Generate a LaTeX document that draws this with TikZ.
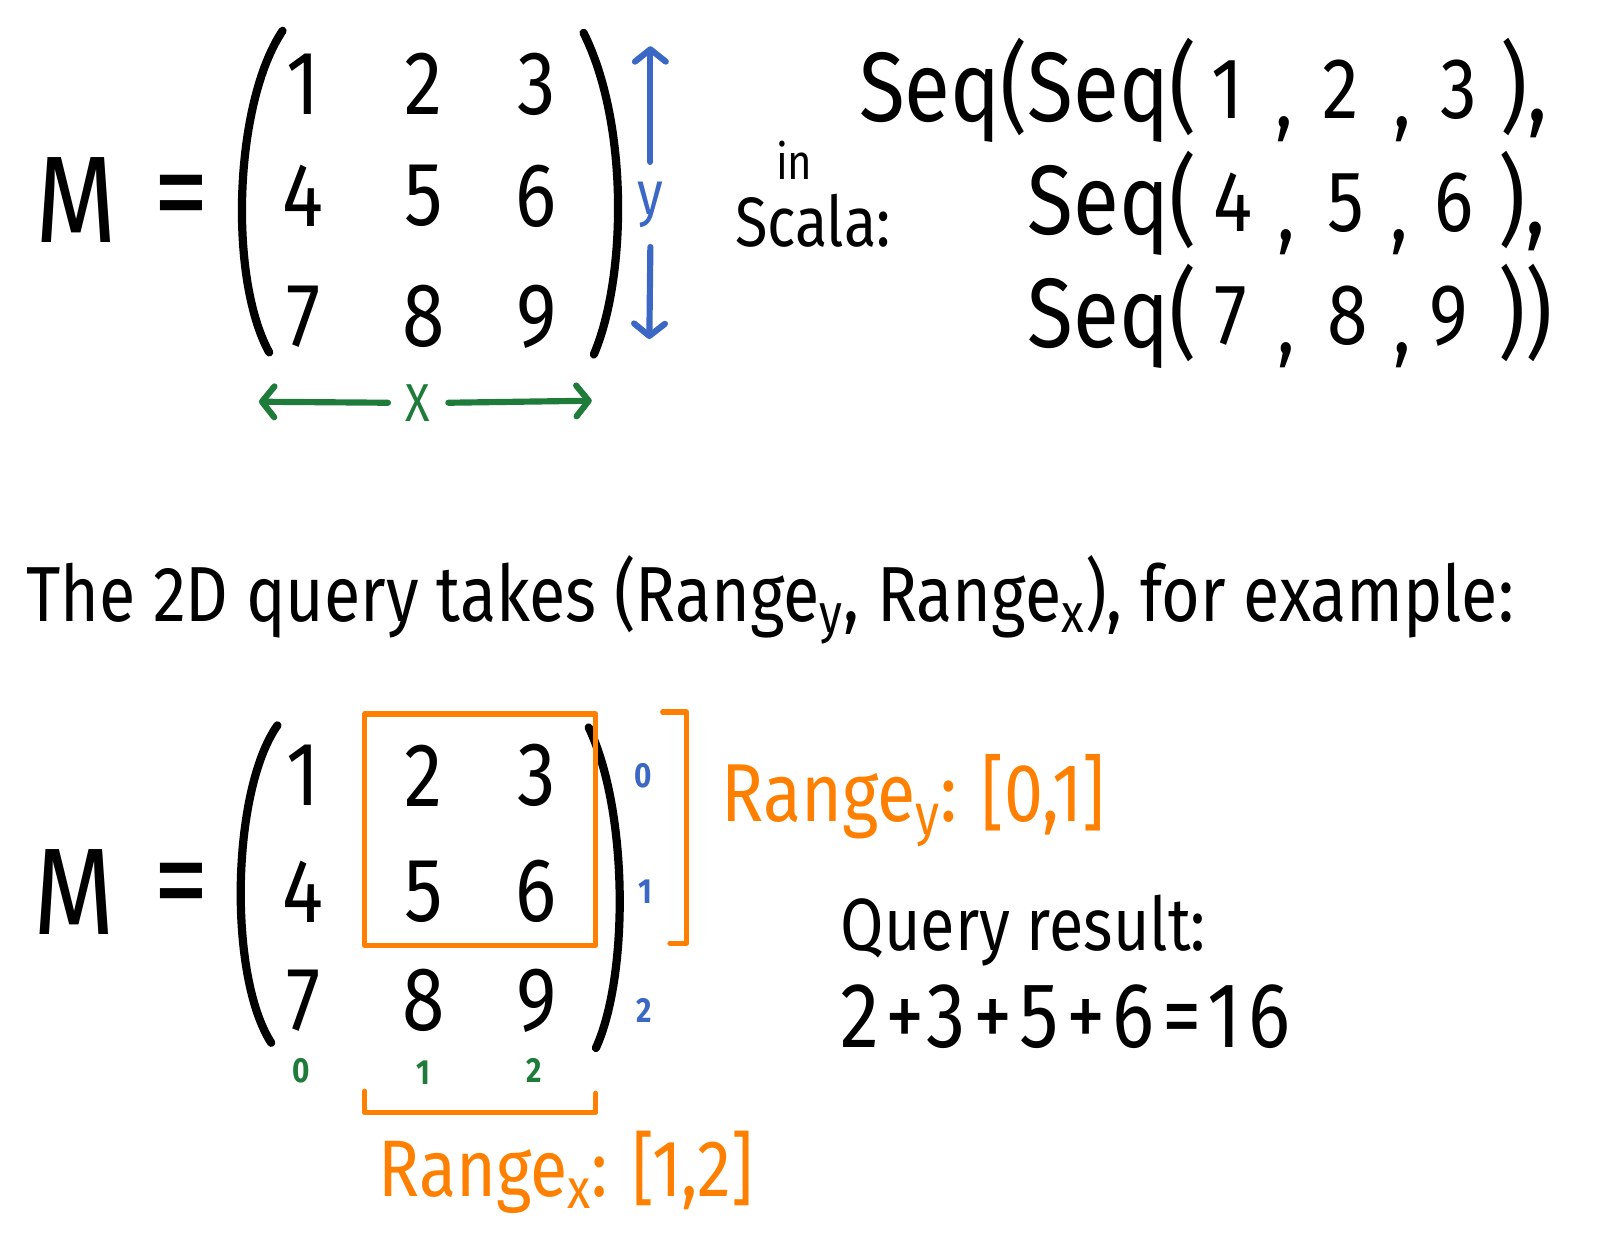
\documentclass[tikz,border=0pt]{standalone}
\usepackage{fontspec}
\newfontfamily\hand[FakeStretch=0.85]{Fira Sans}
\usepackage{xcolor}
\usepackage{tikz}
\usetikzlibrary{positioning, arrows.meta}
\definecolor{hBlue}{HTML}{3A68C4}
\definecolor{hGreen}{HTML}{1E7B3A}
\definecolor{hOrange}{HTML}{FF8000}

\begin{document}
\begin{tikzpicture}[x=0.5pt, y=-0.5pt, line cap=round, line join=round,
    digit/.style={font=\hand\fontsize{44}{48}\selectfont, inner sep=0pt},
    bigM/.style={font=\hand\fontsize{60}{64}\selectfont, inner sep=0pt},
    equals/.style={font=\hand\fontsize{64}{68}\selectfont, inner sep=0pt},
    seqtxt/.style={font=\hand\fontsize{48}{52}\selectfont, inner sep=0pt},
    seqdig/.style={font=\hand\fontsize{42}{46}\selectfont, inner sep=0pt},
    idx/.style={font=\hand\bfseries\fontsize{17}{20}\selectfont, inner sep=0pt},
    paren/.style={line width=4pt},
    arr/.style={line width=3pt, -{Straight Barb[length=6pt, width=15pt, round]}},
    orangeline/.style={draw=hOrange, line width=2.5pt}]
  \useasboundingbox (0,0) rectangle (1568,1214);

  % top: the matrix M and its axes
  \node[bigM] (mTop) at (74,195) {M};
  \node[equals] (eqTop) at (177,200) {=};
  \draw[paren] (275,30) .. controls (228,100) and (222,270) .. (262,343);
  \draw[paren] (568,32) .. controls (612,120) and (610,270) .. (578,345);
  \node[digit] (a11) at (295,82) {1};
  \node[digit] (a12) at (412,82) {2};
  \node[digit] (a13) at (522,82) {3};
  \node[digit] (a21) at (295,191) {4};
  \node[digit] (a22) at (412,191) {5};
  \node[digit] (a23) at (522,191) {6};
  \node[digit] (a31) at (295,308) {7};
  \node[digit] (a32) at (412,308) {8};
  \node[digit] (a33) at (522,308) {9};

  \node[font=\hand\fontsize{30}{32}\selectfont, text=hBlue, inner sep=0pt, minimum height=41pt]
    (yLab) at (633,199) {y};
  \coordinate (yTop) at (633,45);
  \coordinate (yBot) at (632,330);
  \draw[arr, draw=hBlue] (yLab.north) -- (yTop);
  \draw[arr, draw=hBlue] (yLab.south) -- (yBot);

  \node[font=\hand\fontsize{26}{28}\selectfont, text=hGreen, inner sep=0pt, minimum width=29pt]
    (xLab) at (407,392) {X};
  \coordinate (xLeft) at (252,391);
  \coordinate (xRight) at (576,390);
  \draw[arr, draw=hGreen] (xLab.west) -- (xLeft);
  \draw[arr, draw=hGreen] (xLab.east) -- (xRight);

  % top right: the same in Scala
  \node[font=\hand\fontsize{24}{26}\selectfont, inner sep=0pt] (inLab) at (773,156) {in};
  \node[font=\hand\fontsize{34}{38}\selectfont, inner sep=0pt, anchor=base west] (scalaLab) at (715,240) {Scala:};

  \node[seqtxt, anchor=base east] (s1) at (1165,118) {Seq(Seq(};
  \node[seqdig, anchor=base] (s11) at (1195,115) {1};
  \node[seqdig, anchor=base] (c11) at (1250,124) {,};
  \node[seqdig, anchor=base] (s12) at (1305,115) {2};
  \node[seqdig, anchor=base] (c12) at (1365,124) {,};
  \node[seqdig, anchor=base] (s13) at (1420,115) {3};
  \node[seqtxt, anchor=base west] (e1) at (1460,118) {),};

  \node[seqtxt, anchor=base east] (s2) at (1165,228) {Seq(};
  \node[seqdig, anchor=base] (s21) at (1200,225) {4};
  \node[seqdig, anchor=base] (c21) at (1252,234) {,};
  \node[seqdig, anchor=base] (s22) at (1310,225) {5};
  \node[seqdig, anchor=base] (c22) at (1362,234) {,};
  \node[seqdig, anchor=base] (s23) at (1415,225) {6};
  \node[seqtxt, anchor=base west] (e2) at (1458,228) {),};

  \node[seqtxt, anchor=base east] (s3) at (1165,338) {Seq(};
  \node[seqdig, anchor=base] (s31) at (1198,335) {7};
  \node[seqdig, anchor=base] (c31) at (1252,344) {,};
  \node[seqdig, anchor=base] (s32) at (1312,335) {8};
  \node[seqdig, anchor=base] (c32) at (1365,344) {,};
  \node[seqdig, anchor=base] (s33) at (1410,335) {9};
  \node[seqtxt, anchor=base west] (e3) at (1458,338) {))};

  % middle sentence
  \node[font=\hand\fontsize{38}{42}\selectfont, inner sep=0pt, anchor=base west] (query) at (25,605)
    {The 2D query takes (Range\textsubscript{y}, Range\textsubscript{x}), for example:};

  % bottom: the query on M
  \node[bigM] (mBot) at (72,868) {M};
  \node[equals] (eqBot) at (177,870) {=};
  \draw[paren] (270,706) .. controls (225,770) and (222,950) .. (264,1015);
  \draw[paren] (573,708) .. controls (612,790) and (612,950) .. (580,1020);
  \node[digit] (b11) at (295,755) {1};
  \node[digit] (b12) at (412,755) {2};
  \node[digit] (b13) at (522,755) {3};
  \node[digit] (b21) at (295,868) {4};
  \node[digit] (b22) at (412,868) {5};
  \node[digit] (b23) at (522,868) {6};
  \node[digit] (b31) at (295,974) {7};
  \node[digit] (b32) at (412,974) {8};
  \node[digit] (b33) at (522,974) {9};

  \draw[orangeline] (355,695) rectangle (580,920);
  \draw[orangeline] (645,693) -- (668,693) -- (668,918) -- (652,918);
  \draw[orangeline] (355,1062) -- (355,1083) -- (580,1083) -- (580,1064);

  \node[idx, text=hBlue] (r0) at (626,755) {0};
  \node[idx, text=hBlue] (r1) at (628,868) {1};
  \node[idx, text=hBlue] (r2) at (627,983) {2};
  \node[idx, text=hGreen] (k0) at (293,1042) {0};
  \node[idx, text=hGreen] (k1) at (412,1044) {1};
  \node[idx, text=hGreen] (k2) at (520,1042) {2};

  \node[font=\hand\fontsize{40}{44}\selectfont, text=hOrange, inner sep=0pt, anchor=base west]
    (rangeY) at (702,800) {Range\textsubscript{y}: [0,1]};
  \node[font=\hand\fontsize{39}{43}\selectfont, text=hOrange, inner sep=0pt, anchor=base west]
    (rangeX) at (368,1165) {Range\textsubscript{x}: [1,2]};

  \node[font=\hand\fontsize{36}{40}\selectfont, inner sep=0pt, anchor=base west] (result) at (818,925) {Query result:};
  \node[font=\hand\fontsize{45}{49}\selectfont\addfontfeature{LetterSpace=8}, inner sep=0pt, anchor=base west]
    (sum) at (818,1020) {2+3+5+6=16};
\end{tikzpicture}
\end{document}
